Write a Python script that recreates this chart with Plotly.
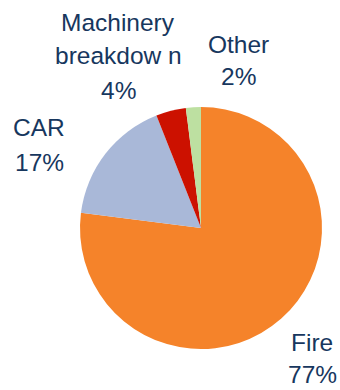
import plotly.graph_objects as go

categories = ["Fire", "CAR", "Machinery<br>breakdow n", "Other"]
values = [77, 17, 4, 2]
colors = ["#F5832A", "#A9B8D8", "#CC1100", "#BDE0A1"]

W, H = 340, 390
# per-line centres (pixels) for the outside labels: (x, [line y's])
label_pos = [
    (312, [342, 374]),
    (39, [128, 162]),
    (118, [22, 56, 90]),
    (239, [44, 77]),
]

fig = go.Figure(go.Pie(
    labels=categories,
    values=values,
    sort=False,
    direction="clockwise",
    rotation=0,
    textinfo="none",
    hoverinfo="label+percent",
    marker=dict(colors=colors, line=dict(width=0)),
    domain=dict(x=[80 / W, 322 / W], y=[41 / H, 283 / H]),
    showlegend=False,
))

total = sum(values)
for cat, v, (px, ys) in zip(categories, values, label_pos):
    lines = cat.split("<br>") + [f"{round(100 * v / total)}%"]
    for line, py in zip(lines, ys):
        at_bottom = py > H - 20
        fig.add_annotation(
            text=line,
            x=px / W, y=0 if at_bottom else 1 - py / H, xref="paper", yref="paper",
            xanchor="center", yanchor="bottom" if at_bottom else "middle",
            showarrow=False,
            font=dict(family="Liberation Sans, Arial, sans-serif", size=24.5, color="#17375E"),
        )

fig.update_layout(
    width=W, height=H,
    margin=dict(l=0, r=0, t=0, b=0),
    paper_bgcolor="white", plot_bgcolor="white",
)
fig.write_html("out.html")
